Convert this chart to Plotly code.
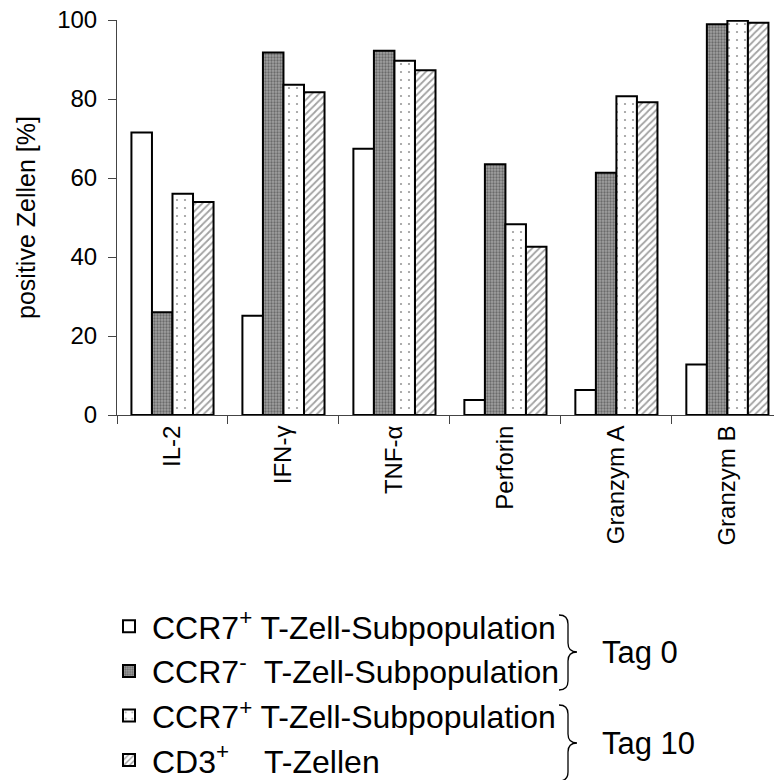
import plotly.graph_objects as go

categories = ["IL-2", "IFN-γ", "TNF-α", "Perforin", "Granzym A", "Granzym B"]
ccr7_pos_d0 = [71.5, 25.1, 67.4, 3.8, 6.3, 12.8]
ccr7_neg_d0 = [26.0, 91.8, 92.2, 63.5, 61.3, 98.9]
ccr7_pos_d10 = [56.0, 83.6, 89.7, 48.3, 80.7, 99.8]
cd3_pos_d10 = [53.9, 81.7, 87.3, 42.6, 79.2, 99.3]

series_names = [
    "CCR7<sup>+</sup> T-Zell-Subpopulation",
    "CCR7<sup>-</sup>\u00a0 T-Zell-Subpopulation",
    "CCR7<sup>+</sup> T-Zell-Subpopulation",
    "CD3<sup>+</sup>\u00a0\u00a0\u00a0 T-Zellen",
]
series_values = [ccr7_pos_d0, ccr7_neg_d0, ccr7_pos_d10, cd3_pos_d10]

FONT = "Arial, Liberation Sans, sans-serif"

patterns = [
    dict(color="white", pattern=dict(shape="")),
    dict(color="#838383", pattern=dict(shape=".", fgcolor="#333333", bgcolor="#a0a0a0", size=3, solidity=0.45)),
    dict(color="white", pattern=dict(shape=".", fgcolor="#333333", bgcolor="white", size=8, solidity=0.06)),
    dict(color="white", pattern=dict(shape="/", fgcolor="#444444", bgcolor="white", size=5, solidity=0.35)),
]

fig = go.Figure()
for i, (name, vals) in enumerate(zip(series_names, series_values)):
    fig.add_trace(go.Bar(
        x=categories, y=vals, name=name,
        legendgroup=f"g{i}",
        marker=dict(color=patterns[i]["color"], pattern=patterns[i]["pattern"],
                    line=dict(color="black", width=2)),
    ))

# plot area in pixels: x 117..774, y 20..415
L, R, T, B = 117, 774, 20, 415
W, H = R - L, B - T


def px(x):
    return (x - L) / W


def py(y):
    return (B - y) / H


def brace(x0, y0, y1, ym):
    xm = x0 + 9
    xt = x0 + 18
    return (f"M {px(x0)},{py(y0)} Q {px(xm)},{py(y0)} {px(xm)},{py(y0 + 9)} "
            f"L {px(xm)},{py(ym - 9)} Q {px(xm)},{py(ym)} {px(xt)},{py(ym)} "
            f"Q {px(xm)},{py(ym)} {px(xm)},{py(ym + 9)} "
            f"L {px(xm)},{py(y1 - 9)} Q {px(xm)},{py(y1)} {px(x0)},{py(y1)}")


shapes = [
    dict(type="path", xref="paper", yref="paper", path=brace(559, 615, 690, 652),
         line=dict(color="black", width=1.3)),
    dict(type="path", xref="paper", yref="paper", path=brace(559, 705, 781, 743),
         line=dict(color="black", width=1.3)),
]

annotations = [
    dict(text="Tag 0", x=px(600), y=py(652), xref="paper", yref="paper",
         xanchor="left", yanchor="middle", showarrow=False,
         font=dict(family=FONT, size=31, color="black")),
    dict(text="Tag 10", x=px(600), y=py(743), xref="paper", yref="paper",
         xanchor="left", yanchor="middle", showarrow=False,
         font=dict(family=FONT, size=31, color="black")),
]

fig.update_layout(
    width=774, height=780,
    margin=dict(l=L, r=0, t=T, b=780 - B, autoexpand=False),
    paper_bgcolor="white", plot_bgcolor="white",
    barmode="group", bargap=0.26, bargroupgap=0,
    font=dict(family=FONT, size=24, color="black"),
    showlegend=True,
    legend=dict(x=px(106), y=py(599), xanchor="left", yanchor="top",
                font=dict(family=FONT, size=32, color="black"),
                tracegroupgap=0, bgcolor="rgba(0,0,0,0)",
                traceorder="grouped", itemwidth=36),
    shapes=shapes, annotations=annotations,
    xaxis=dict(type="category", range=[-0.5, 5.42], tickson="boundaries",
               ticks="outside", ticklen=8, tickcolor="#444", tickwidth=1,
               showline=True, linecolor="#444", linewidth=1,
               tickangle=-90, tickfont=dict(family=FONT, size=24),
               showgrid=False, automargin=False),
    yaxis=dict(range=[0, 100], dtick=20, ticks="outside", ticklen=8,
               tickcolor="#444", showline=True, linecolor="#444", linewidth=1,
               showgrid=False, zeroline=False, automargin=False,
               ticklabelstandoff=6,
               tickfont=dict(family=FONT, size=24),
               title=dict(text="positive Zellen [%]", font=dict(family=FONT, size=25),
                          standoff=14)),
)

fig.write_html("out.html")
